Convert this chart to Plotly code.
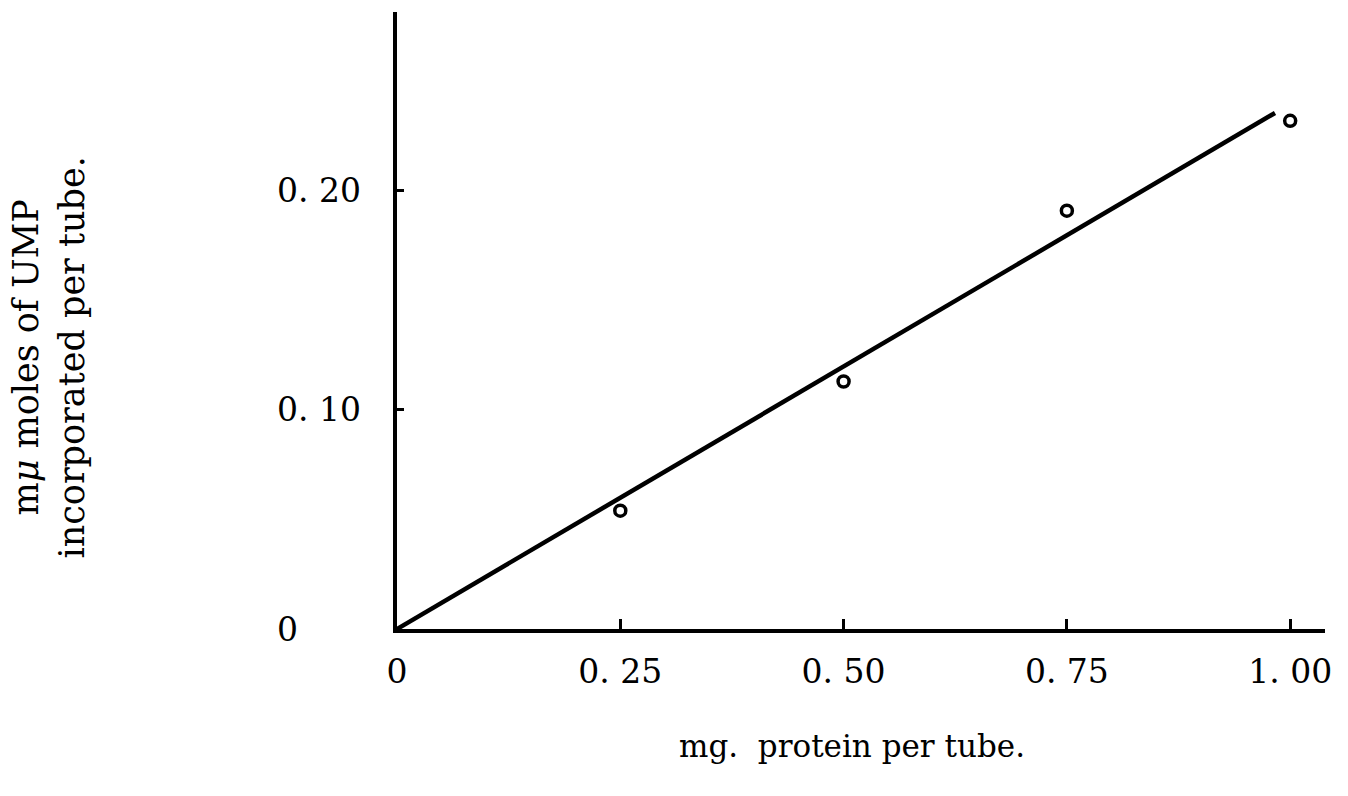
import plotly.graph_objects as go

# UMP incorporation vs. amount of protein
protein_mg = [0.25, 0.50, 0.75, 1.00]
ump_mumoles = [0.054, 0.113, 0.191, 0.232]

# straight line drawn through the points from the origin
fit_x = [0.0, 0.983]
fit_y = [0.0, 0.2356]

x_ticks = [0, 0.25, 0.50, 0.75, 1.00]
x_tick_text = ["0", "0. 25", "0. 50", "0. 75", "1. 00"]
y_ticks = [0, 0.10, 0.20]
y_tick_text = ["0", "0. 10", "0. 20"]

FONT = "DejaVu Serif"

fig = go.Figure()

fig.add_trace(go.Scatter(
    x=fit_x, y=fit_y, mode="lines",
    line=dict(color="black", width=4.5),
    showlegend=False, hoverinfo="skip",
))

fig.add_trace(go.Scatter(
    x=protein_mg, y=ump_mumoles, mode="markers",
    marker=dict(symbol="circle", size=11, color="white",
                line=dict(color="black", width=3.5)),
    showlegend=False,
))

fig.update_xaxes(
    range=[0, 1.039],
    showline=True, linecolor="black", linewidth=4,
    showgrid=False, zeroline=False,
    tickmode="array", tickvals=x_ticks, ticktext=x_tick_text,
    ticks="inside", ticklen=10, tickwidth=3, tickcolor="black",
    ticklabelstandoff=10,
    tickfont=dict(family=FONT, size=33, color="black"),
)

fig.update_yaxes(
    range=[0, 0.2817],
    showline=True, linecolor="black", linewidth=4,
    showgrid=False, zeroline=False,
    tickmode="array", tickvals=y_ticks,
    ticks="inside", ticklen=7, tickwidth=3, tickcolor="black",
    showticklabels=False,
)

# left-aligned value labels on the vertical axis
for v, t in zip(y_ticks, y_tick_text):
    fig.add_annotation(
        x=-0.132, xref="paper", y=v, yref="y",
        text=t, showarrow=False, xanchor="left", yanchor="middle",
        font=dict(family=FONT, size=33, color="black"),
    )

fig.add_annotation(
    x=0.49, xref="paper", y=-0.19, yref="paper",
    text="mg.  protein per tube.", showarrow=False,
    xanchor="center", yanchor="middle",
    font=dict(family=FONT, size=31, color="black"),
)

fig.add_annotation(
    x=-0.375, xref="paper", y=0.44, yref="paper",
    text="m<i>μ</i> moles of UMP<br>incorporated per tube.",
    showarrow=False, textangle=-90,
    xanchor="center", yanchor="middle",
    font=dict(family=FONT, size=35, color="black"),
)

fig.update_layout(
    width=1348, height=796,
    margin=dict(l=397, r=23, t=12, b=167),
    paper_bgcolor="white", plot_bgcolor="white",
)

fig.write_html("out.html")
